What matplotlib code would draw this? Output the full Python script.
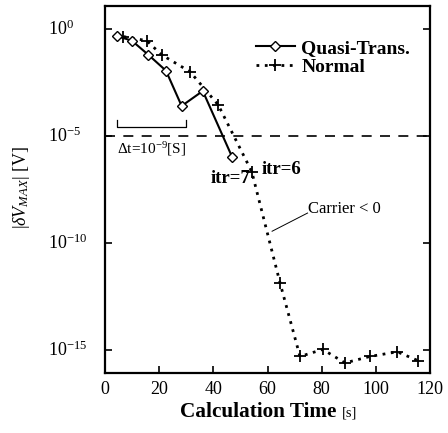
import matplotlib
matplotlib.use("Agg")
import matplotlib.pyplot as plt
import matplotlib.transforms as mtransforms

# Data
quasi_t = [4.3, 9.9, 16.0, 22.5, 28.3, 36.1, 47.0]
quasi_logv = [-0.33, -0.55, -1.21, -1.95, -3.6, -2.9, -6.0]
normal_t = [6.8, 15.4, 20.9, 31.4, 41.8, 54.2, 64.6, 72.0, 80.4, 88.6, 97.8, 107.9, 115.7]
normal_logv = [-0.36, -0.55, -1.21, -2.0, -3.55, -6.67, -11.85, -15.3, -14.97, -15.6, -15.3, -15.08, -15.5]
xticks = [0, 20, 40, 60, 80, 100, 120]
ytick_exp = [0, -5, -10, -15]
threshold = 1e-5

plt.rcParams['font.family'] = ['Liberation Serif', 'DejaVu Serif']
plt.rcParams['mathtext.fontset'] = 'custom'
plt.rcParams['mathtext.rm'] = 'Liberation Serif'
plt.rcParams['mathtext.it'] = 'Liberation Serif:italic'
plt.rcParams['mathtext.bf'] = 'Liberation Serif:bold'

fig = plt.figure(figsize=(4.48, 4.33), dpi=100)
ax = fig.add_axes([0.2344, 0.1386, 0.7254, 0.8476])

qv = [10.0 ** e for e in quasi_logv]
nv = [10.0 ** e for e in normal_logv]

ax.plot(quasi_t, qv, '-', color='black', lw=1.5, marker='D', ms=5,
        mfc='white', mec='black', mew=1.0, label='Quasi-Trans.', zorder=3)
ax.plot(normal_t, nv, linestyle=(0, (1, 2)), color='black', lw=2.0, marker='+', ms=8.5,
        mew=1.3, label='Normal', zorder=2)

ax.axhline(threshold, color='black', lw=1.2, linestyle=(0, (6, 5)))

ax.set_yscale('log')
ax.set_xlim(0, 120)
ax.set_ylim(10 ** -16.07, 10 ** 1.07)
ax.set_xticks(xticks)
ax.set_xticklabels([str(t) for t in xticks])
ax.set_yticks([10.0 ** e for e in ytick_exp])
ax.set_yticklabels([])
ax.yaxis.set_minor_locator(matplotlib.ticker.NullLocator())
ax.tick_params(axis='both', which='major', direction='in', length=5, width=1.2,
               labelsize=13, right=True, top=False, pad=6)
for s in ax.spines.values():
    s.set_linewidth(1.6)

# y tick labels, left aligned as in the reference
trans = mtransforms.blended_transform_factory(fig.transFigure, ax.transData)
for e in ytick_exp:
    ax.text(48 / 448, 10.0 ** e, '10$^{%d}$' % e, transform=trans, fontsize=13,
            ha='left', va='center', clip_on=False)

ax.text(0.47, -0.105, 'Calculation Time', transform=ax.transAxes, fontsize=15.3,
        fontweight='bold', ha='center', va='center')
ax.text(0.728, -0.108, '[s]', transform=ax.transAxes, fontsize=10.5, va='center')
ax.text(21 / 448, 0.568, r'|$\delta V_{MAX}$| [V]', transform=fig.transFigure,
        fontsize=13, rotation=90, ha='center', va='center')

leg = ax.legend(loc='upper left', bbox_to_anchor=(0.44, 0.93), frameon=False,
                prop={'weight': 'bold', 'size': 14}, handlelength=2.0,
                handletextpad=0.35, labelspacing=0.05, borderaxespad=0)

# bracket
bx = [4.4, 4.4, 29.9, 29.9]
by = [10 ** -4.25, 10 ** -4.58, 10 ** -4.58, 10 ** -4.25]
ax.plot(bx, by, color='black', lw=0.9)
ax.text(4.6, 10 ** -5.6, r'$\Delta$t=10$^{-9}$[S]', fontsize=11, va='center')
ax.text(39.0, 10 ** -7.0, 'itr=7', fontsize=13.5, fontweight='bold', va='center')
ax.text(58.0, 10 ** -6.55, 'itr=6', fontsize=13.5, fontweight='bold', va='center')
ax.text(74.8, 10 ** -8.4, 'Carrier < 0', fontsize=12, va='center')
ax.plot([61.7, 74.8], [10 ** -9.45, 10 ** -8.6], color='black', lw=0.7)

fig.savefig('out.png', dpi=100)
